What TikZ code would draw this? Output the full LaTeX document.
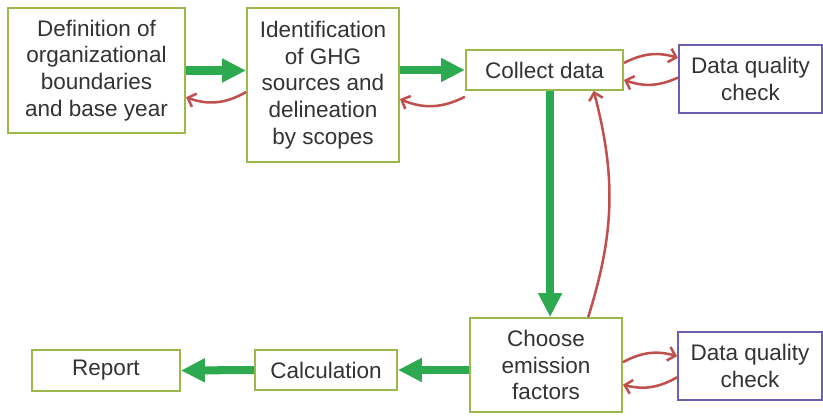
\documentclass[tikz,border=0pt]{standalone}
\usepackage{fontspec}
\setmainfont{Liberation Sans}
\usepackage{xcolor}
\usetikzlibrary{arrows.meta, positioning, calc}

\definecolor{boxgreen}{HTML}{9CB84A}
\definecolor{boxpurple}{HTML}{6B5FB0}
\definecolor{flowgreen}{HTML}{2DAA4F}
\definecolor{backred}{HTML}{C0504D}
\definecolor{textgray}{HTML}{333333}

\begin{document}
\begin{tikzpicture}[x=0.025cm, y=-0.025cm,
    font=\fontsize{16}{19}\selectfont, text=textgray,
    stepbox/.style={draw=boxgreen, line width=1.3pt, fill=white, align=center, inner sep=0pt},
    checkbox/.style={draw=boxpurple, line width=1.3pt, fill=white, align=center, inner sep=0pt},
    flow/.style={flowgreen, line width=5.7pt, -{Triangle[length=17pt, width=16pt]}},
    back/.style={backred, line width=1.8pt, -{Straight Barb[length=5pt, width=10pt]}}]
    \useasboundingbox (0,0) rectangle (823,417);

    % top row
    \node[stepbox, minimum width=4.43cm, minimum height=3.13cm] (def) at (96.5,70.5) {Definition of\\organizational\\boundaries\\and base year};
    \node[stepbox, minimum width=3.8cm, minimum height=3.85cm] (ident) at (323,85) {Identification\\of GHG\\sources and\\delineation\\by scopes};
    \node[stepbox, minimum width=3.93cm, minimum height=1cm] (collect) at (544.5,70) {Collect data};
    \node[checkbox, minimum width=3.58cm, minimum height=1.7cm] (dqtop) at (750.5,79) {Data quality\\check};

    % bottom row
    \node[stepbox, minimum width=3.8cm, minimum height=2.35cm] (choose) at (546,365) {Choose\\emission\\factors};
    \node[checkbox, minimum width=3.6cm, minimum height=1.7cm] (dqbot) at (750,366) {Data quality\\check};
    \node[stepbox, minimum width=3.55cm, minimum height=1cm] (calc) at (326,370) {Calculation};
    \node[stepbox, minimum width=3.7cm, minimum height=1.03cm] (report) at (106,370.5) {Report};

    % main flow
    \draw[flow] (def.east) -- (def.east -| ident.west);
    \draw[flow] (ident.east |- collect.west) -- (collect.west);
    \draw[flow] ([xshift=4pt]collect.south) -- ([xshift=4pt]collect.south |- choose.north);
    \draw[flow] (choose.west |- calc.east) -- (calc.east);
    \draw[flow] (calc.west) -- (report.east);

    % feedback
    \draw[back] ([yshift=-5pt]ident.west) to[bend left=25] ([yshift=-19pt]def.east);
    \draw[back] ([yshift=-19pt]collect.west) to[bend left=25] ([yshift=-10pt]ident.east);
    \draw[back] ([yshift=5pt]collect.east) to[bend left=22] ([yshift=15pt]dqtop.west);
    \draw[back] ([yshift=1pt]dqtop.west) to[bend left=22] ([yshift=-7pt]collect.east);
    \draw[back] ([xshift=30pt]choose.north) to[bend right=16] ([xshift=35pt]collect.south);
    \draw[back] ([yshift=2pt]choose.east) to[bend left=22] ([yshift=7pt]dqbot.west);
    \draw[back] ([yshift=-8pt]dqbot.west) to[bend left=22] ([yshift=-14pt]choose.east);
\end{tikzpicture}
\end{document}
